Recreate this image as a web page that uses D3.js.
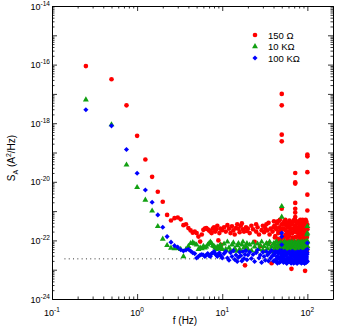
<!doctype html>
<html>
<head>
<meta charset="utf-8">
<script src="https://d3js.org/d3.v7.min.js"></script>
<style>
  body { margin: 0; background: #fff; }
  text { font-family: "Liberation Sans", Arial, sans-serif; fill: #000; }
</style>
</head>
<body>
<div id="chart"></div>
<script>
// frequency grid (Hz)
const freq = [
  0.25,0.5,0.75,1,1.25,1.5,1.75,2,2.25,2.5,
  2.75,3,3.25,3.5,3.75,4,4.25,4.5,4.75,5,
  5.25,5.5,5.75,6,6.25,6.5,6.75,7,7.25,7.5,
  7.75,8,8.25,8.5,8.75,9,9.25,9.5,9.75,10,
  10.5,11,11.5,12,12.5,13,13.5,14,14.5,15,
  15.5,16,16.5,17,17.5,18,18.5,19,19.5,20,
  21,22,23,24,25,26,27,28,29,30,
  31,32,33,34,35,36,37,38,39,40,
  41,42,43,44,45,46,47,48,49,50,
  51,52,53,54,55,56,57,58,59,60,
  61,62,63,64,65,66,67,68,69,70,
  71,72,73,74,75,76,77,78,79,80,
  81,82,83,84,85,86,87,88,89,90,
  91,92,93,94,95,96,97,98,99,100
];
// in-between bins of the dense high-frequency part
const freqHi = [
  40.5,41.5,42.5,43.5,44.5,45.5,46.5,47.5,48.5,49.5,
  50.5,51.5,52.5,53.5,54.5,55.5,56.5,57.5,58.5,59.5,
  60.5,61.5,62.5,63.5,64.5,65.5,66.5,67.5,68.5,69.5,
  70.5,71.5,72.5,73.5,74.5,75.5,76.5,77.5,78.5,79.5,
  80.5,81.5,82.5,83.5,84.5,85.5,86.5,87.5,88.5,89.5,
  90.5,91.5,92.5,93.5,94.5,95.5,96.5,97.5,98.5,99.5
];

// log10 of S_A (A^2/Hz)
const log150 = [
  -16.05,-16.5,-17.39,-18.43,-19.24,-19.83,-20.34,-20.68,-21.13,-21.32,
  -21.24,-21.22,-21.28,-21.48,-21.45,-21.58,-21.66,-21.74,-21.7,-21.75,
  -21.87,-22.04,-21.8,-21.64,-21.6,-21.58,-21.62,-21.66,-21.7,-21.75,
  -21.6,-21.55,-21.7,-21.62,-21.5,-22.0,-21.75,-21.6,-22.15,-21.65,
  -21.55,-21.7,-21.48,-21.6,-21.75,-21.52,-21.66,-21.8,-21.58,-21.45,
  -21.6,-21.72,-21.5,-21.42,-21.62,-21.7,-22.85,-21.55,-21.68,-21.6,
  -21.75,-21.5,-21.62,-22.05,-21.7,-21.55,-21.8,-22.2,-21.65,-21.5,
  -21.72,-21.58,-21.45,-21.66,-22.1,-21.8,-21.6,-22.78,-21.7,-21.55,
  -21.5,-21.85,-21.62,-21.4,-21.95,-21.7,-21.55,-22.15,-21.75,-21.45,
  -21.6,-21.9,-21.45,-22.05,-21.65,-21.8,-21.42,-22.2,-21.55,-21.7,
  -21.85,-21.5,-22.1,-21.62,-22.97,-21.75,-21.4,-21.95,-21.6,-22.25,
  -21.7,-21.5,-21.88,-22.15,-21.58,-21.72,-21.42,-22.0,-21.65,-21.85,
  -21.55,-22.3,-21.7,-21.45,-21.95,-21.62,-22.1,-21.8,-21.5,-22.2,
  -21.66,-21.9,-21.45,-23.04,-21.75,-22.05,-21.58,-21.85,-22.35,-21.62
];
const log10k = [
  -17.2,-18.05,-19.42,-20.19,-20.62,-20.99,-21.52,-21.95,-22.17,-22.26,
  -22.28,-22.27,-22.3,-22.55,-22.3,-22.2,-22.1,-22.07,-22.12,-22.15,
  -22.3,-22.25,-22.28,-22.2,-22.25,-22.22,-22.15,-22.1,-22.05,-22.1,
  -22.18,-22.2,-22.25,-22.3,-22.22,-22.28,-22.2,-22.15,-22.25,-22.3,
  -22.12,-22.3,-22.05,-22.25,-22.35,-22.15,-22.08,-22.28,-22.36,-22.18,
  -22.1,-22.3,-22.38,-22.15,-22.05,-22.24,-22.35,-22.2,-22.1,-22.3,
  -22.15,-22.35,-22.08,-22.22,-22.38,-22.12,-22.3,-22.18,-22.05,-22.32,
  -22.2,-22.38,-22.1,-22.28,-22.15,-22.05,-22.34,-22.22,-22.38,-22.12,
  -22.3,-22.15,-22.05,-22.35,-22.22,-22.38,-22.1,-22.28,-22.08,-22.22,
  -22.34,-22.12,-22.28,-22.05,-22.38,-22.2,-22.1,-22.3,-22.15,-22.36,
  -22.18,-22.08,-22.32,-22.15,-22.28,-22.38,-22.1,-22.22,-22.34,-22.12,
  -22.05,-22.3,-22.15,-22.38,-22.2,-22.1,-22.35,-22.18,-22.3,-22.08,
  -22.22,-22.36,-22.12,-22.3,-22.08,-22.34,-22.2,-22.38,-22.1,-22.28,
  -22.15,-22.32,-22.2,-22.05,-22.36,-22.12,-22.3,-22.05,-21.8,-22.2
];
const log100k = [
  -17.54,-18.09,-18.9,-19.71,-20.28,-20.7,-21.13,-21.55,-21.87,-22.06,
  -22.18,-22.23,-22.32,-22.36,-22.33,-22.3,-22.36,-22.42,-22.45,-22.6,
  -22.55,-22.5,-22.48,-22.5,-22.55,-22.5,-22.45,-22.52,-22.55,-22.45,
  -22.43,-22.38,-22.45,-22.5,-22.55,-22.48,-22.42,-22.5,-22.55,-22.6,
  -22.45,-22.38,-22.6,-22.68,-22.42,-22.55,-22.35,-22.65,-22.5,-22.72,
  -22.58,-22.4,-22.52,-22.7,-22.38,-22.62,-22.48,-22.35,-22.66,-22.5,
  -22.4,-22.62,-22.48,-22.72,-22.42,-22.33,-22.6,-22.5,-22.75,-22.4,
  -22.55,-22.68,-22.38,-22.5,-22.7,-22.42,-22.6,-22.35,-22.52,-22.7,
  -22.45,-22.38,-22.7,-22.55,-22.4,-22.62,-22.75,-22.42,-22.58,-22.35,
  -22.6,-22.45,-22.72,-22.38,-22.65,-22.5,-22.78,-22.42,-22.6,-22.7,
  -22.4,-22.65,-22.5,-22.75,-22.55,-22.38,-22.68,-22.48,-22.78,-22.42,
  -22.58,-22.72,-22.42,-22.65,-22.5,-22.78,-22.4,-22.68,-22.55,-22.74,
  -22.45,-22.7,-22.62,-22.38,-22.78,-22.5,-22.66,-22.42,-22.75,-22.55,
  -22.68,-22.45,-22.78,-22.52,-22.7,-22.4,-22.75,-22.6,-22.48,-22.72
];
const logHi150 = [
  -21.35,-21.9,-21.55,-22.2,-21.4,-21.75,-22.05,-21.3,-21.65,-21.95,
  -21.45,-22.25,-21.6,-21.35,-21.85,-22.1,-21.5,-21.7,-22.3,-21.4,
  -21.8,-21.32,-22.0,-21.6,-22.2,-21.45,-21.75,-21.9,-21.35,-22.15,
  -21.55,-21.3,-22.05,-21.7,-21.4,-22.28,-21.6,-21.85,-21.38,-22.1,
  -21.5,-21.95,-21.3,-21.75,-22.22,-21.45,-21.65,-22.05,-21.35,-21.85,
  -22.3,-21.55,-21.4,-22.0,-21.7,-21.3,-22.15,-21.6,-21.9,-21.45
];
const logHi10k = [
  -22.1,-22.3,-22.18,-22.05,-22.35,-22.22,-22.12,-22.38,-22.2,-22.08,
  -22.28,-22.15,-22.34,-22.05,-22.25,-22.36,-22.12,-22.2,-22.3,-22.08,
  -22.22,-22.38,-22.1,-22.28,-22.15,-22.05,-22.32,-22.2,-22.36,-22.12,
  -22.25,-22.08,-22.3,-22.18,-22.38,-22.1,-22.26,-22.05,-22.34,-22.2,
  -22.15,-22.32,-22.08,-22.22,-22.36,-22.12,-22.28,-22.05,-22.3,-22.18,
  -22.1,-22.35,-22.2,-22.06,-22.3,-22.15,-22.38,-22.1,-22.25,-22.02
];
const logHi100k = [
  -22.5,-22.7,-22.4,-22.62,-22.78,-22.45,-22.58,-22.35,-22.72,-22.5,
  -22.65,-22.42,-22.75,-22.55,-22.38,-22.68,-22.5,-22.78,-22.44,-22.6,
  -22.72,-22.4,-22.62,-22.5,-22.78,-22.45,-22.66,-22.38,-22.7,-22.55,
  -22.48,-22.75,-22.42,-22.65,-22.52,-22.78,-22.4,-22.6,-22.7,-22.45,
  -22.58,-22.72,-22.38,-22.64,-22.5,-22.76,-22.44,-22.68,-22.55,-22.4,
  -22.7,-22.5,-22.78,-22.45,-22.62,-22.35,-22.72,-22.55,-22.68,-22.42
];

// extra points: line harmonics and the upper edge of the noisy band
const extraF150 = [50,50,50,50,50, 72,72,72,72,72,72,72, 100,100,100,100,100,
  25,35,45,55,58,62,66,70,78,84,88,93,97,99];
const extra150 = [-17.0,-17.39,-18.39,-18.62,-20.92, -19.7,-20.02,-20.06,-20.72,-20.92,-21.05,-21.2,
  -19.07,-19.13,-19.67,-20.44,-20.98,
  -21.45,-21.4,-21.35,-21.3,-21.95,-21.35,-22.05,-21.3,-21.35,-22.15,-21.3,-22.1,-21.35,-21.5];
const extraF10k = [50,50,100,100,100];
const extra10k = [-20.84,-21.2,-21.52,-21.75,-22.04];
const extraF100k = [50,50,50,100,100];
const extra100k = [-21.75,-21.87,-22.15,-22.09,-22.3];

const floorLevel = -22.63;          // dotted reference line
const floorRange = [0.14, 100];

const xMajor = [0.1, 1, 10, 100];
const xExp = ["-1", "0", "1", "2"];
const yMajorExp = [-24,-23,-22,-21,-20,-19,-18,-17,-16,-15,-14];
const yLabelExp = [-24,-22,-20,-18,-16,-14];

const legendNames = ["150 \u03A9", "10 K\u03A9", "100 K\u03A9"];
const colors = ["#ff0000", "#12a012", "#0000ff"];

const W = 338, H = 326;
const plotL = 52, plotR = 333, plotT = 6, plotB = 299;

const svg = d3.select("#chart").append("svg")
  .attr("width", W).attr("height", H);

const x = d3.scaleLog().domain([0.1, 200]).range([plotL, plotR]);
const y = d3.scaleLog().domain([1e-24, 1e-14]).range([plotB, plotT]);

// minor tick values
const xMinor = [];
[0.1, 1, 10, 100].forEach(d => { for (let k = 2; k <= 9; k++) if (d * k <= 200) xMinor.push(d * k); });
const yMinor = [];
yMajorExp.slice(0, -1).forEach(e => { for (let k = 2; k <= 9; k++) yMinor.push(k * Math.pow(10, e)); });
const yMajor = yMajorExp.map(e => Math.pow(10, e));

function axisPair(gen, scale, major, minor, tr) {
  svg.append("g").attr("transform", tr)
    .call(gen(scale).tickValues(major).tickSize(-5).tickSizeOuter(0).tickFormat(""));
  svg.append("g").attr("transform", tr)
    .call(gen(scale).tickValues(minor).tickSize(-2.5).tickSizeOuter(0).tickFormat(""))
    .call(g => g.select(".domain").remove());
}
axisPair(d3.axisBottom, x, xMajor, xMinor, `translate(0,${plotB})`);
axisPair(d3.axisTop, x, xMajor, xMinor, `translate(0,${plotT})`);
axisPair(d3.axisLeft, y, yMajor, yMinor, `translate(${plotL},0)`);
axisPair(d3.axisRight, y, yMajor, yMinor, `translate(${plotR},0)`);
svg.selectAll(".domain").attr("stroke", "#000").attr("stroke-width", 1);
svg.selectAll(".tick line").attr("stroke", "#000").attr("stroke-width", 0.8);

// tick labels with superscripts
const xl = svg.append("g").selectAll("text").data(xMajor).join("text")
  .attr("x", d => x(d)).attr("y", 316)
  .attr("text-anchor", "middle").attr("font-size", 9);
xl.append("tspan").text("10");
xl.append("tspan").attr("dy", -4).attr("font-size", 6.5).text((d, i) => xExp[i]);

const yl = svg.append("g").selectAll("text").data(yLabelExp).join("text")
  .attr("x", 50).attr("y", d => y(Math.pow(10, d)) + 3.5)
  .attr("text-anchor", "end").attr("font-size", 9);
yl.append("tspan").text("10");
yl.append("tspan").attr("dy", -4).attr("font-size", 6.5).text(d => d);

// axis titles
svg.append("text").attr("x", 185).attr("y", 324)
  .attr("text-anchor", "middle").attr("font-size", 10).text("f (Hz)");
const yt = svg.append("text")
  .attr("transform", "translate(15,158) rotate(-90)")
  .attr("text-anchor", "middle").attr("font-size", 10);
yt.append("tspan").text("S");
yt.append("tspan").attr("dy", 2.5).attr("font-size", 7).text("A");
yt.append("tspan").attr("dy", -2.5).text(" (A");
yt.append("tspan").attr("dy", -4).attr("font-size", 7).text("2");
yt.append("tspan").attr("dy", 4).text("/Hz)");

// dotted floor line
svg.append("line")
  .attr("x1", x(floorRange[0])).attr("x2", x(floorRange[1]))
  .attr("y1", y(Math.pow(10, floorLevel))).attr("y2", y(Math.pow(10, floorLevel)))
  .attr("stroke", "#333").attr("stroke-width", 1).attr("stroke-dasharray", "1,3.3");

// markers
const shapes = [
  d3.symbol().type(d3.symbolCircle).size(17),
  d3.symbol().type(d3.symbolTriangle).size(15),
  d3.symbol().type(d3.symbolSquare).size(13)
];
const rot = ["", "", " rotate(45)"];
const series = [
  d3.zip(freq.concat(freqHi, extraF150), log150.concat(logHi150, extra150)),
  d3.zip(freq.concat(freqHi, extraF10k), log10k.concat(logHi10k, extra10k)),
  d3.zip(freq.concat(freqHi, extraF100k), log100k.concat(logHi100k, extra100k))
];

series.forEach((pts, s) => {
  svg.append("g").selectAll("path").data(pts).join("path")
    .attr("d", shapes[s])
    .attr("transform", d => `translate(${x(d[0])},${y(Math.pow(10, d[1]))})${rot[s]}`)
    .attr("fill", colors[s]);
});

// legend
const lg = svg.append("g").selectAll("g").data(legendNames).join("g")
  .attr("transform", (d, i) => `translate(255,${35 + i * 11.5})`);
lg.append("path").attr("d", (d, i) => shapes[i]())
  .attr("transform", (d, i) => i === 2 ? "rotate(45)" : "")
  .attr("fill", (d, i) => colors[i]);
lg.append("text").attr("x", 13).attr("y", 3.5).attr("font-size", 9.5).text(d => d);
</script>
</body>
</html>
